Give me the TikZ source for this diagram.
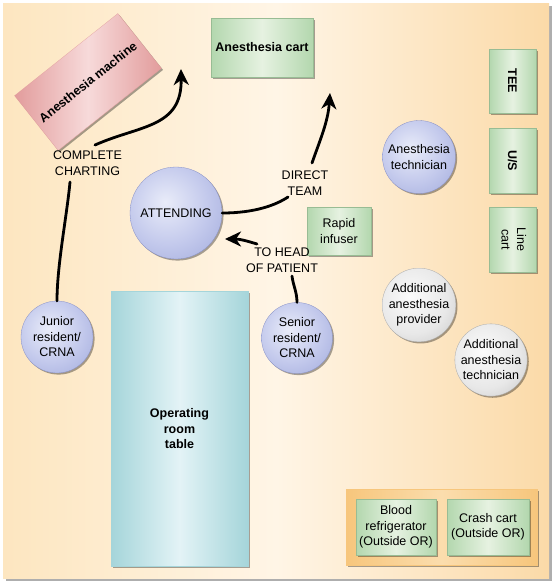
\documentclass[tikz,border=0pt]{standalone}
\usepackage{fontspec}
\setmainfont{Liberation Sans}
\usepackage{graphicx}
\usetikzlibrary{shadows,arrows.meta}
\definecolor{bgL}{HTML}{FDE6C0}
\definecolor{bgM}{HTML}{FFF5E6}
\definecolor{bgR}{HTML}{FBDAA8}
\definecolor{pIn}{HTML}{E9ECF9}
\definecolor{pMid}{HTML}{C3C9EC}
\definecolor{pOut}{HTML}{8E99D3}
\definecolor{pLine}{HTML}{8790C6}
\definecolor{gIn}{HTML}{FBFBFB}
\definecolor{gMid}{HTML}{E8E8E8}
\definecolor{gOut}{HTML}{B2B2B2}
\definecolor{gLn}{HTML}{A8A8A8}
\definecolor{grE}{HTML}{B3D7AE}
\definecolor{grM}{HTML}{E6F2E1}
\definecolor{grLn}{HTML}{98BC94}
\definecolor{rdE}{HTML}{E29C9C}
\definecolor{rdM}{HTML}{F7DADA}
\definecolor{tlE}{HTML}{A5D5DA}
\definecolor{tlM}{HTML}{E3F3F6}
\definecolor{orE}{HTML}{F7C67C}
\definecolor{orM}{HTML}{FBDDAD}
\pgfdeclareradialshading{bluesph}{\pgfpoint{-6bp}{6bp}}{color(0bp)=(pIn); color(22bp)=(pMid); color(52bp)=(pOut); color(100bp)=(pOut)}
\pgfdeclareradialshading{graysph}{\pgfpoint{-6bp}{6bp}}{color(0bp)=(gIn); color(24bp)=(gMid); color(52bp)=(gOut); color(100bp)=(gOut)}
\begin{document}
\begin{tikzpicture}[x=1pt,y=-1pt,
  font=\fontsize{12.5}{15.5}\selectfont,
  shad/.style={drop shadow={shadow xshift=1.6pt,shadow yshift=-1.6pt,opacity=0.35,fill=black}},
  person/.style={circle,inner sep=0pt,minimum size=#1,shade,shading=bluesph,
    draw=pLine,line width=0.3pt,shad,align=center},
  person/.default=72pt,
  extra/.style={circle,inner sep=0pt,minimum size=#1,shade,shading=graysph,
    draw=gLn,line width=0.3pt,shad,align=center},
  extra/.default=72pt,
  greenbox/.style={rectangle,inner sep=2pt,left color=grE,right color=grE,middle color=grM,
    draw=grLn,line width=0.2pt,shad,align=center},
  redbox/.style={rectangle,inner sep=2pt,left color=rdE,right color=rdE,middle color=rdM,
    draw=rdE,line width=0.2pt,shad,align=center},
  tablebox/.style={rectangle,inner sep=2pt,left color=tlE,right color=tlE,middle color=tlM,
    draw=tlE,line width=0.2pt,shad,align=center},
  orangebox/.style={rectangle,inner sep=0pt,left color=orE,right color=orE,middle color=orM,
    draw=orE,line width=0.2pt,shad},
  lbl/.style={align=center,inner sep=0pt},
  conn/.style={line width=2.8pt,line cap=round},
  tipa/.style={-{Stealth[length=16pt,width=15pt,inset=5pt]}}
]
\useasboundingbox (0,0) rectangle (556,584);
% background frame
\path[left color=bgL,right color=bgR,middle color=bgM,
  drop shadow={shadow xshift=3pt,shadow yshift=-3pt,opacity=0.45,fill=black!70}]
  (3,3) rectangle (549,578);

% equipment
\node[redbox,rotate=38.5,minimum width=132pt,minimum height=70pt] (machine) at (88,82) {\bfseries Anesthesia machine};
\node[greenbox,minimum width=102pt,minimum height=59pt] (cart) at (262,47.5) {\bfseries Anesthesia cart};
\node[greenbox,minimum width=47pt,minimum height=64pt] (tee) at (512.5,81) {\rotatebox{-90}{\bfseries TEE}};
\node[greenbox,minimum width=47pt,minimum height=65pt] (us) at (512.5,160.5) {\rotatebox{-90}{\bfseries U/S}};
\node[greenbox,minimum width=47pt,minimum height=65pt] (line) at (512.5,239.5) {\rotatebox{-90}{\begin{tabular}{@{}c@{}}Line\\cart\end{tabular}}};
\node[greenbox,minimum width=64pt,minimum height=48pt] (infuser) at (339,231) {Rapid\\infuser};
\node[tablebox,minimum width=137pt,minimum height=275pt] (table) at (179.5,429) {\bfseries Operating\\\bfseries room\\\bfseries table};

% people
\node[person=92pt] (attending) at (176,213) {ATTENDING};
\node[person=73pt] (tech) at (419,157) {Anesthesia\\technician};
\node[person=72pt] (junior) at (57,337) {Junior\\resident/\\CRNA};
\node[person=71pt] (senior) at (297,338) {Senior\\resident/\\CRNA};
\node[extra=72pt] (addprov) at (419,305) {Additional\\anesthesia\\provider};
\node[extra=72pt] (addtech) at (491,360) {Additional\\anesthesia\\technician};

% outside OR
\node[orangebox,minimum width=191pt,minimum height=76pt] (outside) at (441.5,527) {};
\node[greenbox,minimum width=80pt,minimum height=56pt] (blood) at (396,527) {Blood\\refrigerator\\(Outside OR)};
\node[greenbox,minimum width=82pt,minimum height=56pt] (crash) at (488,527) {Crash cart\\(Outside OR)};

% labels
\node[lbl] (chart) at (87.5,163) {COMPLETE\\CHARTING};
\node[lbl] (direct) at (305,183) {DIRECT\\TEAM};
\node[lbl] (tohead) at (282,260) {TO HEAD\\OF PATIENT};

% connector end points
\coordinate (c1) at (70,182);
\coordinate (c2) at (95,145);
\coordinate (c3) at (181,69);
\coordinate (d1) at (288,197);
\coordinate (d2) at (312,163);
\coordinate (d3) at (330,93);
\coordinate (h1) at (292,276);
\coordinate (h2) at (257,244);
\coordinate (h3) at (225,239);

% connectors
\draw[conn] (junior.north) .. controls (57,265) and (67,215) .. (c1);
\draw[conn,tipa] (c2) .. controls (140,125) and (182,128) .. (c3);
\draw[conn] (attending.east) .. controls (255,213) and (276,205) .. (d1);
\draw[conn,tipa] (d2) .. controls (320,140) and (328,122) .. (d3);
\draw[conn] (senior.north) .. controls (297,292) and (293,285) .. (h1);
\draw[conn,tipa] (h2) .. controls (247,241) and (240,239) .. (h3);
\end{tikzpicture}
\end{document}
